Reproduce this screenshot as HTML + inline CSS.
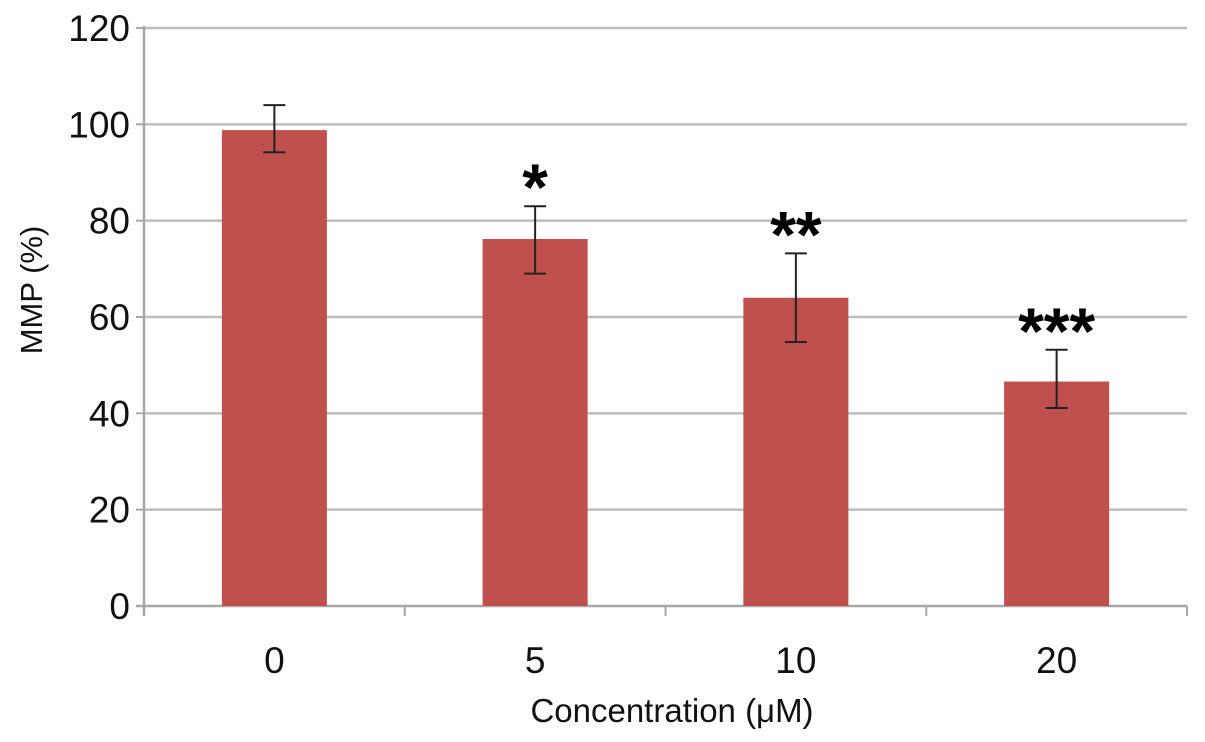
<!DOCTYPE html>
<html><head><meta charset="utf-8"><style>
html,body{margin:0;padding:0;background:#fff;}
svg{display:block;font-family:"Liberation Sans",Arial,sans-serif;}
</style></head><body>
<svg id="chart" width="1205" height="742"></svg>
<script>
const categories = ["0","5","10","20"];
const values = [98.8, 76.2, 64.0, 46.6];
const errUpper = [104.0, 83.0, 73.2, 53.2];
const errLower = [94.2, 69.0, 54.8, 41.1];
const stars = ["", "*", "**", "***"];
const yTicks = [0,20,40,60,80,100,120];

const NS="http://www.w3.org/2000/svg";
const svg=document.getElementById('chart');
const L=144,R=1187,T=28,B=606,yMax=120;
const y=v=>B-(v/yMax)*(B-T);
const band=(R-L)/categories.length;
const xc=i=>L+band*(i+0.5);
const barW=105;
function mk(tag,attrs,text){const e=document.createElementNS(NS,tag);for(const k in attrs)e.setAttribute(k,attrs[k]);if(text!==undefined)e.textContent=text;svg.appendChild(e);return e;}

yTicks.forEach(t=>{
  if(t>0){
    const g=mk('line',{x1:L,x2:R,y1:y(t),y2:y(t),stroke:'#bdbdbd','stroke-width':2.5});
    
    
  }
  const tk=mk('line',{x1:L-8,x2:L,y1:y(t),y2:y(t),stroke:'#a8a8a8','stroke-width':2});
  
  
  const lb=mk('text',{x:L-14,y:y(t)+13,'text-anchor':'end','font-size':37,fill:'#111'},String(t));
  
  
});
const ya=mk('line',{x1:L,x2:L,y1:T-2,y2:B+10,stroke:'#a8a8a8','stroke-width':2.5});


const xa=mk('line',{x1:L-8,x2:R,y1:B,y2:B,stroke:'#a8a8a8','stroke-width':2.5});


for(let i=0;i<=categories.length;i++){
  const t=mk('line',{x1:L+band*i,x2:L+band*i,y1:B,y2:B+10,stroke:'#a8a8a8','stroke-width':2});
  
  
}
categories.forEach((c,i)=>{
  const b=mk('rect',{x:xc(i)-barW/2,y:y(values[i]),width:barW,height:B-y(values[i]),fill:'#c0504d'});
  
  
  const cx=xc(i);
  const e=mk('path',{d:`M${cx},${y(errUpper[i])}V${y(errLower[i])}M${cx-11},${y(errUpper[i])}H${cx+11}M${cx-11},${y(errLower[i])}H${cx+11}`,stroke:'#222','stroke-width':2,fill:'none'});
  
  
  if(stars[i]){
    const s=mk('text',{x:cx,y:y(errUpper[i]),'text-anchor':'middle','font-size':66,'font-weight':'bold',fill:'#000'},stars[i]);
    s.setAttribute('y',y(errUpper[i])+4);
    
    
  }
  const xl=mk('text',{x:cx,y:673,'text-anchor':'middle','font-size':37,fill:'#111'},c);
  
  
});
const xt=mk('text',{x:672,y:722,'text-anchor':'middle','font-size':33,fill:'#111'},'Concentration (μM)');


const yt=mk('text',{x:0,y:0,'text-anchor':'middle','font-size':31,fill:'#111',transform:'translate(42,290) rotate(-90)'},'MMP (%)');


</script>
</body></html>
